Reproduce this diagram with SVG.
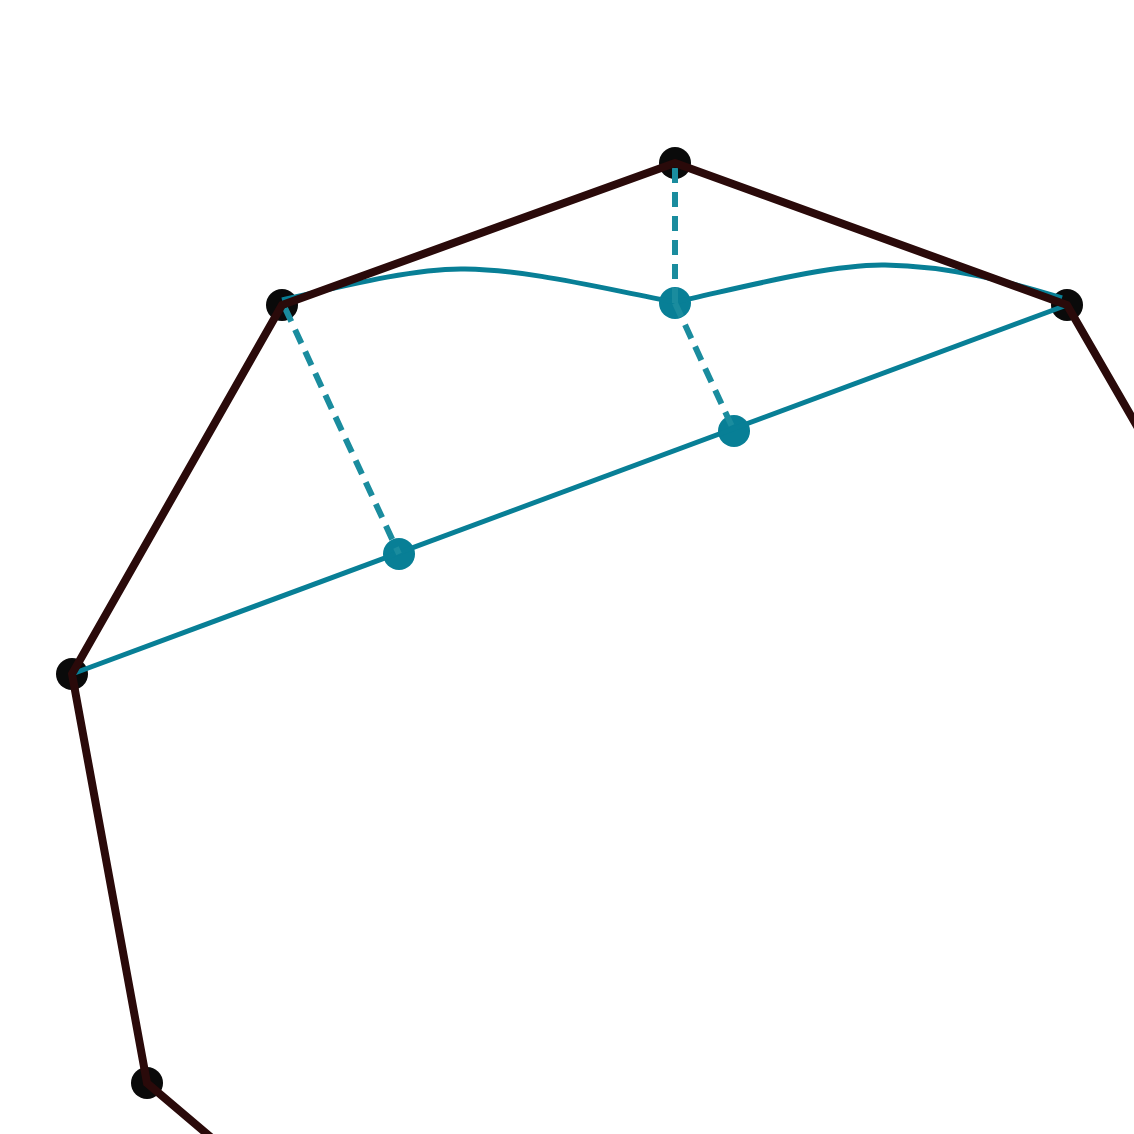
<svg xmlns="http://www.w3.org/2000/svg" width="1134" height="1134" viewBox="0 0 1134 1134">
<style>
.bn{fill:#0a0a0a}
.tn{fill:#087f96}
.be{stroke:#2a0a0a;stroke-width:8;fill:none}
.te{stroke:#087f96;stroke-width:5;fill:none}
.td{stroke:#1a8c9e;stroke-width:6;fill:none;stroke-dasharray:15 9}
</style>
<rect width="1134" height="1134" fill="#fff"/>
<g id="nodes">
<g id="nA"><circle class="bn" cx="675" cy="163" r="16"/></g>
<g id="nB"><circle class="bn" cx="282" cy="305" r="16"/></g>
<g id="nC"><circle class="bn" cx="1067" cy="305" r="16"/></g>
<g id="nD"><circle class="bn" cx="72" cy="674" r="16"/></g>
<g id="nE"><circle class="bn" cx="147" cy="1083" r="16"/></g>
<g id="nF"><circle class="tn" cx="675" cy="303" r="16"/></g>
<g id="nG"><circle class="tn" cx="734" cy="431" r="16"/></g>
<g id="nH"><circle class="tn" cx="399" cy="554" r="16"/></g>
</g>
<g id="connectors">
<path class="te" d="M72,674 L1067,305"/>
<path class="te" d="M282,300 C360,282 420,268 465,269 C530,270 600,288 675,302 C740,288 830,264 885,265 C950,266 1010,282 1062,298"/>
<path class="td" d="M675,168 L675,303"/>
<path class="td" d="M285,308 L399,554"/>
<path class="td" d="M675,303 L734,431"/>
<path class="be" d="M1145,440 L1067,305 L675,163 L282,305 L72,674 L147,1083 L220,1145"/>
</g>
</svg>
